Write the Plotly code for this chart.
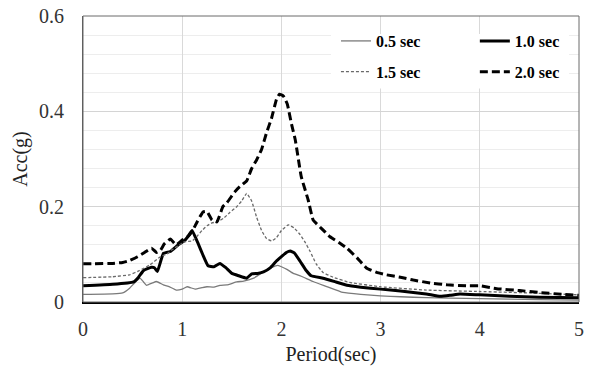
import plotly.graph_objects as go

# ---- data ----
period_05 = [0, 0.3, 0.4, 0.47, 0.52, 0.575, 0.61, 0.64, 0.7, 0.74, 0.81, 0.86, 0.94, 1.0, 1.05, 1.13, 1.2, 1.25, 1.32, 1.38, 1.45, 1.55, 1.62, 1.72, 1.78, 1.85, 1.9, 1.96, 2.0, 2.06, 2.12, 2.2, 2.32, 2.45, 2.62, 2.8, 3.0, 3.2, 3.46, 3.7, 4.0, 4.3, 4.6, 5.0]
acc_05 = [0.016, 0.017, 0.019, 0.029, 0.040, 0.050, 0.042, 0.035, 0.040, 0.043, 0.036, 0.033, 0.025, 0.027, 0.032, 0.027, 0.030, 0.032, 0.031, 0.035, 0.036, 0.042, 0.044, 0.050, 0.058, 0.067, 0.072, 0.077, 0.074, 0.068, 0.060, 0.054, 0.043, 0.033, 0.020, 0.016, 0.013, 0.011, 0.009, 0.008, 0.007, 0.006, 0.005, 0.004]

period_10 = [0, 0.3, 0.51, 0.56, 0.61, 0.69, 0.72, 0.75, 0.81, 0.88, 0.96, 1.02, 1.06, 1.10, 1.16, 1.21, 1.26, 1.32, 1.38, 1.44, 1.50, 1.57, 1.65, 1.70, 1.76, 1.82, 1.89, 1.95, 2.0, 2.05, 2.09, 2.13, 2.19, 2.25, 2.3, 2.42, 2.55, 2.66, 2.8, 3.0, 3.2, 3.46, 3.6, 3.7, 3.8, 4.0, 4.3, 4.6, 5.0]
acc_10 = [0.034, 0.037, 0.042, 0.052, 0.066, 0.073, 0.072, 0.064, 0.102, 0.106, 0.120, 0.128, 0.138, 0.150, 0.123, 0.098, 0.076, 0.074, 0.081, 0.072, 0.060, 0.055, 0.050, 0.059, 0.060, 0.063, 0.072, 0.086, 0.095, 0.104, 0.107, 0.103, 0.085, 0.066, 0.055, 0.050, 0.042, 0.035, 0.031, 0.027, 0.023, 0.017, 0.012, 0.014, 0.017, 0.015, 0.012, 0.010, 0.009]

period_15 = [0, 0.3, 0.47, 0.57, 0.675, 0.78, 0.84, 0.9, 0.96, 1.0, 1.05, 1.1, 1.15, 1.2, 1.25, 1.3, 1.35, 1.42, 1.48, 1.55, 1.6, 1.65, 1.7, 1.75, 1.8, 1.85, 1.9, 1.95, 2.0, 2.07, 2.13, 2.19, 2.24, 2.29, 2.35, 2.42, 2.52, 2.69, 3.0, 3.46, 4.0, 4.5, 5.0]
acc_15 = [0.051, 0.053, 0.057, 0.066, 0.078, 0.095, 0.100, 0.110, 0.118, 0.125, 0.127, 0.128, 0.138, 0.150, 0.160, 0.166, 0.168, 0.176, 0.188, 0.200, 0.212, 0.228, 0.212, 0.178, 0.150, 0.133, 0.128, 0.135, 0.150, 0.162, 0.155, 0.141, 0.125, 0.106, 0.080, 0.062, 0.052, 0.041, 0.032, 0.025, 0.022, 0.019, 0.015]

period_20 = [0, 0.3, 0.4, 0.47, 0.55, 0.62, 0.69, 0.74, 0.78, 0.82, 0.88, 0.94, 1.0, 1.05, 1.1, 1.15, 1.21, 1.25, 1.30, 1.35, 1.41, 1.45, 1.53, 1.58, 1.65, 1.70, 1.75, 1.8, 1.85, 1.9, 1.95, 1.98, 2.02, 2.06, 2.1, 2.14, 2.2, 2.27, 2.32, 2.4, 2.49, 2.58, 2.66, 2.76, 2.86, 2.96, 3.06, 3.2, 3.33, 3.5, 3.67, 3.87, 4.0, 4.17, 4.4, 4.6, 4.84, 5.0]
acc_20 = [0.080, 0.081, 0.083, 0.087, 0.095, 0.104, 0.113, 0.104, 0.108, 0.122, 0.132, 0.120, 0.130, 0.136, 0.148, 0.168, 0.189, 0.190, 0.172, 0.168, 0.200, 0.208, 0.231, 0.242, 0.254, 0.280, 0.298, 0.320, 0.355, 0.385, 0.425, 0.436, 0.432, 0.415, 0.375, 0.340, 0.263, 0.214, 0.172, 0.155, 0.137, 0.125, 0.113, 0.093, 0.071, 0.062, 0.057, 0.052, 0.046, 0.040, 0.036, 0.034, 0.034, 0.028, 0.024, 0.020, 0.016, 0.014]

series_names = ["0.5 sec", "1.0 sec", "1.5 sec", "2.0 sec"]
x_ticks = [0, 1, 2, 3, 4, 5]
y_ticks = [0, 0.2, 0.4, 0.6]
y_tick_labels = ["0", "0.2", "0.4", "0.6"]

SERIF = "Liberation Serif"

fig = go.Figure()
styles = [
    dict(color="#7a7a7a", width=1.3, dash="solid"),
    dict(color="#000000", width=3, dash="solid"),
    dict(color="#6a6a6a", width=1.3, dash="3px,2px"),
    dict(color="#000000", width=3, dash="8px,4px"),
]
legends = ["legend", "legend2", "legend", "legend2"]
data = [(period_05, acc_05), (period_10, acc_10), (period_15, acc_15), (period_20, acc_20)]
for i, ((px_, py_), name) in enumerate(zip(data, series_names)):
    fig.add_trace(go.Scatter(
        x=px_, y=py_, mode="lines", name=name,
        line=dict(shape="spline", smoothing=0.3, **styles[i]),
        legend=legends[i], legendgroup=name,
    ))

# white panel behind the legend (covers gridlines)
fig.add_shape(type="rect", xref="x", yref="y", x0=2.5, x1=4.9, y0=0.448, y1=0.562,
              fillcolor="white", line=dict(width=0), layer="between")
# plot frame
fig.add_shape(type="rect", xref="paper", yref="paper", x0=0, x1=1, y0=0, y1=1,
              line=dict(color="#6b6b6b", width=1), layer="above")

leg_common = dict(
    orientation="v", yanchor="top", xanchor="left",
    bgcolor="rgba(0,0,0,0)", borderwidth=0,
    font=dict(family=SERIF, size=16, color="#000000", weight="bold"),
    tracegroupgap=7, itemwidth=30,
)
fig.update_layout(
    width=590, height=367,
    font=dict(family=SERIF, size=20, color="#333333"),
    margin=dict(l=83, r=11, t=16, b=65, autoexpand=False),
    paper_bgcolor="white", plot_bgcolor="white",
    showlegend=True,
    legend=dict(x=0.51, y=0.972, **leg_common),
    legend2=dict(x=0.79, y=0.972, **leg_common),
    xaxis=dict(
        range=[0, 5], tickvals=x_ticks, ticktext=[str(t) for t in x_ticks],
        showgrid=True, gridcolor="#d9d9d9", gridwidth=1, automargin=False,
        zeroline=False, showline=True, linecolor="#000000", linewidth=1.5,
        ticks="", ticklabelstandoff=8,
        tickfont=dict(family=SERIF, size=20, color="#333333"),
        title=dict(text="Period(sec)", font=dict(family=SERIF, size=20, color="#222222"), standoff=8),
    ),
    yaxis=dict(
        range=[0, 0.6], tickvals=y_ticks, ticktext=y_tick_labels,
        showgrid=True, gridcolor="#d4d4d4", gridwidth=1, automargin=False,
        minor=dict(dtick=0.04, showgrid=True, gridcolor="#ededed", gridwidth=1, tick0=0),
        zeroline=False, showline=True, linecolor="#555555", linewidth=1,
        ticks="", ticklabelstandoff=14,
        tickfont=dict(family=SERIF, size=20, color="#333333"),
        title=dict(text="Acc(g)", font=dict(family=SERIF, size=20, color="#222222"), standoff=6),
    ),
)

fig.write_html("out.html")
